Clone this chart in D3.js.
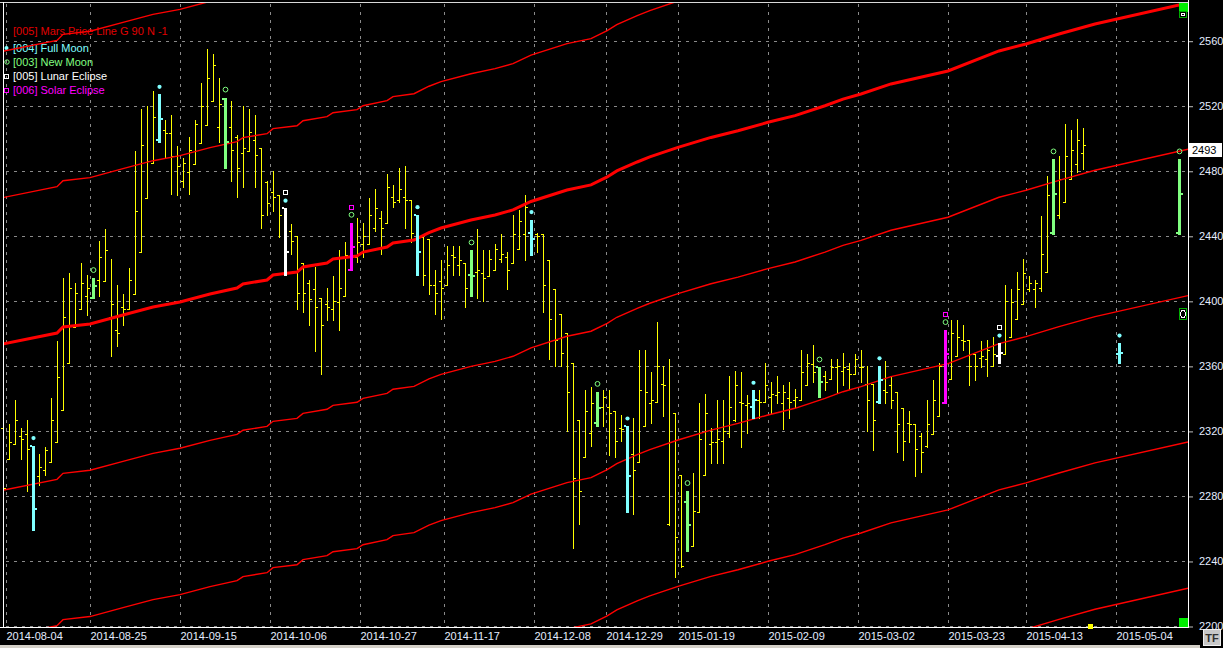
<!DOCTYPE html>
<html><head><meta charset="utf-8">
<script src="https://cdn.jsdelivr.net/npm/d3@7"></script>
<style>html,body{margin:0;padding:0;background:#000;overflow:hidden}</style>
</head><body><svg id="c" width="1223" height="648"></svg>
<script>
// ---------- DATA ----------
// daily bars, index 0 = 2014-08-04 (trading-day index)
const barOpen=[2322,2303,2312,2317,2318,2311,2292,2296,2301,2313,
2333,2362,2384,2395,2403,2402,2413,2412,2390,2382,
2396,2395,2404,2430,2463,2485,2499,2505,2503,2489,
2474,2479,2484,2497,2508,2523,2507,2524,2507,2501,
2491,2492,2499,2494,2473,2467,2465,2457,2443,2440,
2423,2411,2407,2402,2398,2395,2399,2403,2419,2427,
2435,2435,2445,2451,2448,2464,2462,2464,2462,2453,
2439,2438,2410,2412,2410,2428,2422,2423,2416,2418,
2417,2415,2419,2426,2427,2423,2432,2441,2442,2441,
2441,2425,2407,2392,2380,2362,2327,2304,2319,2325,
2335,2335,2332,2322,2323,2306,2301,2323,2337,2338,
2349,2263,2331,2293,2276,2249,2270,2293,2312,2313,
2314,2319,2327,2338,2336,2335,2339,2338,2341,2342,
2337,2340,2339,2339,2348,2361,2359,2354,2352,2359,
2357,2358,2355,2359,2349,2349,2338,2345,2348,2344,
2334,2325,2324,2317,2311,2318,2329,2337,2352,2366,
2376,2376,2367,2365,2364,2360,2366,2367,2378,2389,
2398,2407,2407,2408,2418,2442,2453,2461,2475,2484,2491];
const barHigh=[2325,2324,2339,2322,2327,2311,2306,2310,2340,2375,
2414,2417,2411,2423,2416,2414,2437,2444,2426,2410,
2404,2420,2492,2518,2520,2529,2527,2511,2514,2495,
2488,2501,2511,2534,2555,2552,2537,2525,2523,2502,
2520,2518,2514,2494,2474,2480,2465,2457,2447,2440,
2423,2413,2421,2402,2408,2415,2431,2436,2448,2451,
2448,2463,2469,2455,2478,2471,2482,2483,2462,2453,
2441,2438,2419,2425,2434,2434,2434,2423,2431,2444,
2431,2431,2435,2441,2430,2453,2456,2465,2450,2442,
2441,2425,2407,2392,2380,2362,2327,2345,2347,2344,
2345,2345,2332,2330,2323,2328,2370,2370,2356,2387,
2360,2364,2331,2293,2283,2294,2337,2343,2322,2339,
2339,2354,2357,2356,2342,2345,2345,2362,2350,2354,
2348,2350,2346,2370,2367,2373,2359,2357,2364,2364,
2368,2362,2367,2370,2360,2349,2360,2363,2354,2344,
2334,2332,2324,2319,2339,2351,2362,2382,2388,2388,
2385,2376,2367,2375,2376,2378,2374,2410,2407,2418,
2426,2415,2413,2452,2477,2487,2489,2509,2505,2512,2506];
const barLow=[2262,2303,2312,2303,2283,2259,2287,2293,2301,2313,
2333,2362,2384,2395,2391,2402,2403,2412,2366,2372,
2385,2395,2404,2430,2463,2485,2498,2488,2466,2465,
2470,2466,2484,2497,2508,2523,2498,2482,2474,2464,
2470,2492,2470,2445,2453,2455,2439,2416,2429,2395,
2393,2385,2369,2355,2388,2388,2382,2403,2419,2424,
2427,2435,2443,2429,2448,2458,2461,2445,2436,2416,
2410,2404,2392,2389,2410,2416,2416,2396,2403,2402,
2400,2415,2419,2424,2407,2423,2432,2425,2428,2430,
2393,2364,2360,2360,2320,2248,2263,2304,2311,2323,
2323,2305,2304,2314,2270,2269,2301,2323,2325,2338,
2329,2262,2230,2236,2246,2249,2270,2293,2300,2300,
2300,2316,2326,2310,2319,2328,2328,2338,2331,2337,
2321,2328,2335,2339,2348,2350,2341,2345,2352,2344,
2348,2346,2355,2350,2320,2308,2337,2337,2334,2307,
2302,2313,2292,2295,2310,2318,2329,2337,2352,2366,
2370,2348,2351,2359,2354,2360,2362,2367,2378,2389,
2398,2406,2396,2406,2418,2441,2451,2461,2475,2479,2481];
const barClose=[2285,2313,2327,2315,2309,2272,2298,2308,2327,2353,
2390,2408,2405,2411,2408,2409,2427,2431,2398,2380,
2395,2413,2455,2496,2486,2513,2512,2503,2489,2483,
2485,2493,2509,2520,2537,2545,2521,2498,2493,2482,
2494,2504,2490,2453,2460,2464,2453,2430,2437,2405,
2405,2401,2396,2385,2396,2400,2408,2428,2433,2436,
2440,2453,2457,2445,2470,2461,2469,2462,2442,2430,
2416,2410,2405,2408,2422,2427,2425,2408,2415,2419,
2414,2426,2432,2429,2419,2441,2449,2458,2438,2440,
2410,2389,2376,2368,2344,2291,2283,2332,2337,2334,
2341,2331,2314,2321,2292,2296,2345,2344,2339,2360,
2348,2313,2255,2237,2262,2271,2315,2331,2313,2315,
2320,2335,2348,2337,2337,2339,2338,2348,2343,2344,
2344,2338,2341,2356,2362,2356,2350,2350,2359,2360,
2359,2355,2364,2359,2339,2327,2351,2344,2339,2324,
2314,2324,2309,2307,2324,2339,2360,2367,2380,2378,
2375,2360,2360,2366,2370,2367,2368,2400,2399,2407,
2417,2411,2411,2429,2465,2466,2475,2489,2493,2499,2496];
// projected bars (future)
const projIdx=[186,196];
const projOpen=[2367,2442], projHigh=[2374,2487], projLow=[2362,2441], projClose=[2368,2466];
// lunar events (bar index)
const fullMoonIdx=[5,26,47,69,88,104,125,146,166,186];
const newMoonIdx=[15,37,58,78,99,114,136,157,175,196];
const lunarEclipseIdx=[47,166];
const solarEclipseIdx=[58,157];
// Mars price line (base), offsets of 90
const marsIdx=[0,9,10,14.5,20,25,29.5,34.5,39,40,44,45,49,50,54,55,59,60,64,65,68.5,71,73,78,82,85,88,94,98,100.7,102.3,105.7,107.8,112.5,118,122.5,127.5,132,137,140,143,148,157.5,166,170.5,176,182,197.5];
const marsVal=[2373.5,2380.2,2383.9,2385.8,2391.3,2396.2,2399.3,2404.2,2407.9,2410.4,2412.8,2415.9,2417.7,2420.8,2423.3,2425.7,2427.6,2430.0,2433.1,2435.6,2437.4,2442.0,2444.8,2449.7,2452.8,2455.9,2461.1,2468.2,2471.3,2476.2,2479.9,2485.4,2488.5,2494.4,2500.5,2504.6,2509.8,2513.9,2520.0,2524.1,2527.2,2533.4,2541.4,2553.7,2558.0,2564.1,2570.3,2583.2];
const marsOffsets=[-360,-270,-180,-90,0,90,180];
// axes
const xTickLabels=["2014-08-04","2014-08-25","2014-09-15","2014-10-06","2014-10-27","2014-11-17","2014-12-08","2014-12-29","2015-01-19","2015-02-09","2015-03-02","2015-03-23","2015-04-13","2015-05-04"];
const xTickIdx=[1,15,30,45,60,74,89,101,113,128,143,158,171,186];
const yTickValues=[2200,2240,2280,2320,2360,2400,2440,2480,2520,2560];
const legendNames=["[005] Mars Price Line G 90 N -1","[004] Full Moon","[003] New Moon","[005] Lunar Eclipse","[006] Solar Eclipse"];

// ---------- DRAW ----------
const svg=d3.select('#c');
const FONT='"Liberation Sans", Arial, sans-serif';
const L=3,R=1188,T=2,B=627;
const x=d3.scaleLinear().domain([-0.5,197.5]).range([0,1188]);
const y=d3.scaleLinear().domain([2200,2560]).range([626,40.7]);
const C={full:'#80ffff',nw:'#80ff80',lunar:'#ffffff',solar:'#ff00ff'};

svg.append('rect').attr('width',1223).attr('height',648).attr('fill','#000');
svg.append('defs').append('clipPath').attr('id','clip').append('rect')
  .attr('x',L+1).attr('y',T+1).attr('width',R-L-1).attr('height',B-T-1);

// grid
const grid=svg.append('g').attr('stroke','#8a8a8a').attr('stroke-dasharray','3,5').attr('shape-rendering','crispEdges');
grid.selectAll('line.h').data(yTickValues).join('line')
  .attr('x1',L+3).attr('x2',R).attr('y1',d=>Math.round(y(d))+0.5).attr('y2',d=>Math.round(y(d))+0.5);
grid.selectAll('line.v').data(xTickIdx).join('line')
  .attr('x1',d=>Math.round(x(d-0.5))+0.5).attr('x2',d=>Math.round(x(d-0.5))+0.5).attr('y1',T+2).attr('y2',B);

// legend
const leg=svg.append('g').attr('font-family',FONT).attr('font-size',11);
const legColors=['#e00000',C.full,C.nw,C.lunar,C.solar];
const legY=[35,52,66,80,94];
leg.selectAll('text').data(legendNames).join('text')
  .attr('x',13).attr('y',(d,i)=>legY[i]).attr('fill',(d,i)=>legColors[i]).text(d=>d);
leg.append('circle').attr('cx',6.5).attr('cy',48).attr('r',2).attr('fill',C.full);
leg.append('circle').attr('cx',7).attr('cy',62).attr('r',2.2).attr('fill','none').attr('stroke',C.nw);
leg.append('rect').attr('x',4.5).attr('y',74.5).attr('width',4).attr('height',4).attr('fill','none').attr('stroke',C.lunar);
leg.append('rect').attr('x',4.5).attr('y',88.5).attr('width',4).attr('height',4).attr('fill','none').attr('stroke',C.solar);

// bar data
const bars=barOpen.map((o,i)=>({i,o,h:barHigh[i],l:barLow[i],c:barClose[i]}));
projIdx.forEach((p,k)=>bars.push({i:p,o:projOpen[k],h:projHigh[k],l:projLow[k],c:projClose[k]}));
const isFull=new Set(fullMoonIdx), isNew=new Set(newMoonIdx), isLun=new Set(lunarEclipseIdx), isSol=new Set(solarEclipseIdx);
const special=d=>isFull.has(d.i)||isNew.has(d.i);
const colorOf=d=>isLun.has(d.i)?C.lunar:isSol.has(d.i)?C.solar:isFull.has(d.i)?C.full:C.nw;
const px=v=>Math.round(v);

// yellow bars
const yb=svg.append('g').attr('fill','#ffff00').attr('shape-rendering','crispEdges');
const normal=bars.filter(d=>!special(d));
yb.selectAll('rect.v').data(normal).join('rect')
  .attr('x',d=>px(x(d.i))).attr('y',d=>px(y(d.h))).attr('width',1).attr('height',d=>Math.max(1,px(y(d.l))-px(y(d.h))+1));
yb.selectAll('rect.o').data(normal).join('rect')
  .attr('x',d=>px(x(d.i))-2).attr('y',d=>px(y(d.o))).attr('width',2).attr('height',1);
yb.selectAll('rect.c').data(normal).join('rect')
  .attr('x',d=>px(x(d.i))+1).attr('y',d=>px(y(d.c))).attr('width',2).attr('height',1);

// Mars price lines
const line=d3.line().x(d=>x(d[0])).y(d=>y(d[1]));
const ml=svg.append('g').attr('clip-path','url(#clip)').attr('fill','none').attr('stroke','#ff0000');
ml.selectAll('path').data(marsOffsets).join('path')
  .attr('d',off=>line(marsIdx.map((m,k)=>[m,marsVal[k]+off])))
  .attr('stroke-width',off=>off===0?3:1.4);

// highlighted bars
const sb=svg.append('g').attr('shape-rendering','crispEdges');
const sp=bars.filter(special);
sb.selectAll('rect.v').data(sp).join('rect').attr('fill',colorOf)
  .attr('x',d=>px(x(d.i))-1).attr('y',d=>px(y(d.h))).attr('width',3).attr('height',d=>Math.max(2,px(y(d.l))-px(y(d.h))+1));
sb.selectAll('rect.o').data(sp).join('rect').attr('fill',colorOf)
  .attr('x',d=>px(x(d.i))-3).attr('y',d=>px(y(d.o))-1).attr('width',2).attr('height',2);
sb.selectAll('rect.c').data(sp).join('rect').attr('fill',colorOf)
  .attr('x',d=>px(x(d.i))+2).attr('y',d=>px(y(d.c))-1).attr('width',2).attr('height',2);

// markers
const mk=svg.append('g');
sp.filter(d=>isFull.has(d.i)).forEach(d=>{
  mk.append('circle').attr('cx',px(x(d.i))+0.5).attr('cy',y(d.h)-7.5).attr('r',2.1).attr('fill',C.full);
});
sp.filter(d=>isNew.has(d.i)).forEach(d=>{
  mk.append('circle').attr('cx',px(x(d.i))+0.5).attr('cy',y(d.h)-8).attr('r',2.4).attr('fill','none').attr('stroke',C.nw).attr('stroke-width',1);
});
sp.filter(d=>isLun.has(d.i)||isSol.has(d.i)).forEach(d=>{
  mk.append('rect').attr('x',px(x(d.i))-1.5).attr('y',px(y(d.h))-17.5).attr('width',4).attr('height',4)
    .attr('fill','none').attr('stroke',isLun.has(d.i)?C.lunar:C.solar).attr('stroke-width',1);
});

// frame
const fr=svg.append('g').attr('fill','#ffffff').attr('shape-rendering','crispEdges');
fr.append('rect').attr('x',0).attr('y',T).attr('width',R+1).attr('height',1).attr('fill','#d8d8d8');
fr.append('rect').attr('x',L).attr('y',T).attr('width',1).attr('height',B-T+1);
fr.append('rect').attr('x',R).attr('y',0).attr('width',1).attr('height',B+1);
fr.append('rect').attr('x',0).attr('y',B).attr('width',R+1).attr('height',1);
// corner boxes
fr.append('rect').attr('x',1179).attr('y',3).attr('width',9).attr('height',9).attr('fill','#00ee00');
fr.append('rect').attr('x',1179).attr('y',618).attr('width',9).attr('height',9).attr('fill','#00ee00');
fr.append('rect').attr('x',1179.5).attr('y',11.5).attr('width',7).attr('height',6).attr('fill','#000').attr('stroke','#00aa00');
fr.append('rect').attr('x',1181.5).attr('y',13.5).attr('width',3).attr('height',2).attr('fill','none').attr('stroke','#fff');
fr.append('rect').attr('x',1179.5).attr('y',308.5).attr('width',7).attr('height',11).attr('fill','#000').attr('stroke','#00aa00');
fr.append('ellipse').attr('cx',1183).attr('cy',314).attr('rx',2.5).attr('ry',3.5).attr('fill','none').attr('stroke','#fff');
fr.append('rect').attr('x',1088).attr('y',624).attr('width',5).attr('height',5).attr('fill','#ffff00');

// right axis
const ya=svg.append('g').attr('transform',`translate(${R+1},0)`)
  .call(d3.axisRight(y).tickValues(yTickValues).tickSize(4).tickPadding(6).tickFormat(d3.format('d')));
ya.select('.domain').remove();
ya.selectAll('line').attr('stroke','#c0c0c0').attr('transform','translate(0,0.5)');
ya.selectAll('text').attr('fill','#e4ecff').attr('font-family',FONT).attr('font-size',11);

// current value box
const cur=Math.round(marsVal[marsVal.length-1]+marsOffsets[3]);
svg.append('rect').attr('x',1189).attr('y',143).attr('width',33).attr('height',14).attr('fill','#fff');
svg.append('text').attr('x',1192).attr('y',154).attr('fill','#000').attr('font-family',FONT).attr('font-size',11).text(cur);

// bottom axis
const xa=svg.append('g').attr('transform',`translate(0,${B})`)
  .call(d3.axisBottom(x).tickValues(xTickIdx.map(d=>d-0.5)).tickSize(0).tickPadding(5).tickFormat((d,k)=>xTickLabels[k]));
xa.select('.domain').remove();
xa.selectAll('text').attr('fill','#e4ecff').attr('font-family',FONT).attr('font-size',11).attr('text-anchor','start').attr('dx',0);

// bottom strip + TF button
svg.append('rect').attr('x',0).attr('y',645).attr('width',1200).attr('height',3).attr('fill','#d4d0c8');
svg.append('rect').attr('x',1203.5).attr('y',629.5).attr('width',17).attr('height',16).attr('fill','#c8c8c8').attr('stroke','#f0f0f0');
svg.append('text').attr('x',1212).attr('y',642).attr('text-anchor','middle').attr('font-family',FONT).attr('font-size',11).attr('font-weight','bold').attr('fill','#303030').text('TF');
</script></body></html>
